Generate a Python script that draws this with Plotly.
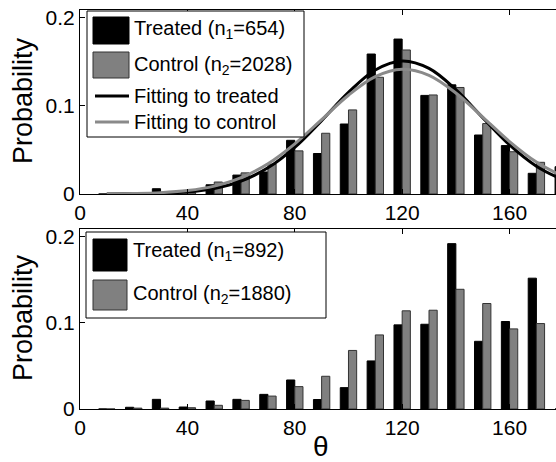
import plotly.graph_objects as go

W, H = 556, 462

# ---------------- data ----------------
theta = [10, 20, 30, 40, 50, 60, 70, 80, 90, 100, 110, 120, 130, 140, 150, 160, 170, 180]

top_treated = [0, 0, 0.006, 0, 0.0105, 0.0215, 0.025, 0.061, 0.046, 0.0795, 0.159, 0.176,
               0.112, 0.124, 0.067, 0.055, 0.0235, 0.031]
top_control = [0, 0, 0, 0.0015, 0.0136, 0.024, 0.034, 0.049, 0.069, 0.0955, 0.1326, 0.1636,
               0.1125, 0.121, 0.080, 0.048, 0.036, 0.030]

fit_treated = [0.00006, 0.00024, 0.00081, 0.00242, 0.00634, 0.01463, 0.0297, 0.0530, 0.0834,
               0.1155, 0.1408, 0.1510, 0.1426, 0.1185, 0.0867, 0.0558, 0.0316, 0.0158]
fit_control = [0.00016, 0.00052, 0.0015, 0.00387, 0.00896, 0.01855, 0.03437, 0.0570, 0.0845,
               0.1122, 0.1333, 0.1417, 0.1348, 0.1147, 0.0874, 0.0596, 0.0363, 0.0198]

bot_treated = [0, 0.002, 0.0112, 0.0023, 0.0093, 0.0112, 0.017, 0.0337, 0.011, 0.0248, 0.0558,
               0.0977, 0.0984, 0.192, 0.0786, 0.1016, 0.1519, 0]
bot_control = [0, 0.001, 0.001, 0.0015, 0.0043, 0.010, 0.015, 0.026, 0.038, 0.068, 0.086,
               0.114, 0.1147, 0.139, 0.1225, 0.093, 0.0992, 0]

x_ticks = [0, 40, 80, 120, 160]
y_ticks = [0, 0.1, 0.2]
y_ticktext = ["0", "0.1", "0.2"]

top_labels = ["Treated (n<sub>1</sub>=654)", "Control (n<sub>2</sub>=2028)",
              "Fitting to treated", "Fitting to control"]
bot_labels = ["Treated (n<sub>1</sub>=892)", "Control (n<sub>2</sub>=1880)"]

# ---------------- styles ----------------
FONT = "Liberation Sans, Arial, Helvetica, sans-serif"
BLACK = "#000000"
GRAY = "#808080"
GRAY_EDGE = "#333333"
LINE_GRAY = "#8a8a8a"


def px(x):
    return x / W


def py(y):
    return 1 - y / H


fig = go.Figure()

# top panel
fig.add_trace(go.Bar(x=theta, y=top_treated, marker=dict(color=BLACK, line=dict(color=BLACK, width=1)),
                     xaxis="x", yaxis="y", showlegend=False))
fig.add_trace(go.Bar(x=theta, y=top_control, marker=dict(color=GRAY, line=dict(color=GRAY_EDGE, width=1)),
                     xaxis="x", yaxis="y", showlegend=False))
fig.add_trace(go.Scatter(x=theta, y=fit_treated, mode="lines", line=dict(color=BLACK, width=3, shape="spline"),
                         xaxis="x", yaxis="y", showlegend=False))
fig.add_trace(go.Scatter(x=theta, y=fit_control, mode="lines", line=dict(color=LINE_GRAY, width=3, shape="spline"),
                         xaxis="x", yaxis="y", showlegend=False))

# bottom panel
fig.add_trace(go.Bar(x=theta, y=bot_treated, marker=dict(color=BLACK, line=dict(color=BLACK, width=1)),
                     xaxis="x2", yaxis="y2", showlegend=False))
fig.add_trace(go.Bar(x=theta, y=bot_control, marker=dict(color=GRAY, line=dict(color=GRAY_EDGE, width=1)),
                     xaxis="x2", yaxis="y2", showlegend=False))

xcommon = dict(range=[0, 177.3], tickvals=x_ticks, ticks="inside", ticklen=5, tickcolor="black",
               showline=True, linecolor="black", linewidth=1, mirror="ticks", showgrid=False,
               zeroline=False, automargin=False, tickfont=dict(family=FONT, size=21, color="black"))
ycommon = dict(range=[0, 0.209], tickvals=y_ticks, ticktext=y_ticktext, ticks="inside", ticklen=5,
               tickcolor="black", showline=True, linecolor="black", linewidth=1, mirror=False,
               showgrid=False, zeroline=False, automargin=False,
               tickfont=dict(family=FONT, size=21, color="black"))

shapes = []
annotations = []


def rect(x0, y0, x1, y1, fill, line_color="black", lw=1):
    shapes.append(dict(type="rect", xref="paper", yref="paper", x0=px(x0), x1=px(x1), y0=py(y1), y1=py(y0),
                       fillcolor=fill, line=dict(color=line_color, width=lw), layer="above"))


def hline(x0, x1, y, color, lw):
    shapes.append(dict(type="line", xref="paper", yref="paper", x0=px(x0), x1=px(x1), y0=py(y), y1=py(y),
                       line=dict(color=color, width=lw), layer="above"))


def text(x, y, s, size=20, angle=0, xanchor="left"):
    annotations.append(dict(xref="paper", yref="paper", x=px(x), y=py(y), text=s, showarrow=False,
                            xanchor=xanchor, yanchor="middle", textangle=angle,
                            font=dict(family=FONT, size=size, color="black")))


# top legend
rect(87, 11, 304, 137, "white")
rect(93, 17, 129, 44, BLACK, BLACK)
rect(93, 52, 129, 78, GRAY, GRAY_EDGE)
hline(95, 129, 96, BLACK, 3)
hline(95, 129, 122, LINE_GRAY, 3)
text(132, 29, top_labels[0])
text(132, 65, top_labels[1])
text(132, 96, top_labels[2])
text(132, 122, top_labels[3])

# bottom legend
rect(86, 232, 326, 318, "white")
rect(93, 239, 127, 271, BLACK, BLACK)
rect(93, 280, 127, 310, GRAY, GRAY_EDGE)
text(131, 252, bot_labels[0])
text(131, 294, bot_labels[1])

# axis titles
text(23, 101, "Probability", size=27, angle=-90, xanchor="center")
text(23, 318, "Probability", size=27, angle=-90, xanchor="center")
text(321, 446, "θ", size=28, xanchor="center")

fig.update_layout(
    width=W, height=H,
    margin=dict(l=0, r=0, t=0, b=0, autoexpand=False),
    paper_bgcolor="white", plot_bgcolor="white",
    barmode="group", bargap=0.39, bargroupgap=0,
    xaxis=dict(domain=[px(80), 1], anchor="y", **xcommon),
    yaxis=dict(domain=[py(194), py(10)], anchor="x", **ycommon),
    xaxis2=dict(domain=[px(80), 1], anchor="y2", **xcommon),
    yaxis2=dict(domain=[py(409), py(229)], anchor="x2", **ycommon),
    shapes=shapes,
    annotations=annotations,
    showlegend=False,
)

fig.write_html("out.html", config={"displayModeBar": False},
               post_script="document.body.style.margin='0';document.body.style.padding='0';")
